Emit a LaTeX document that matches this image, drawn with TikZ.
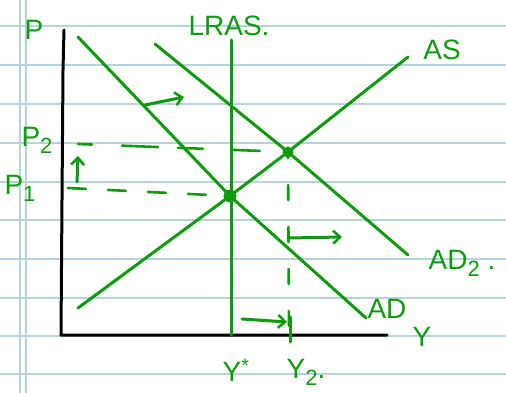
\documentclass[tikz,border=0pt]{standalone}
\usepackage{fontspec}
\setmainfont{Liberation Sans}
\usepackage{xcolor}
\usetikzlibrary{arrows.meta}
\definecolor{pengreen}{HTML}{0E9A0E}
\definecolor{ruleblue}{HTML}{B4D2E2}
\newcommand{\lowidx}[1]{\raisebox{-7pt}{\fontsize{22}{24}\selectfont #1}}
\tikzset{
  curve/.style={pengreen, line width=3pt, line cap=round, line join=round},
  guide/.style={curve, line width=2.6pt, dash pattern=#1},
  guide/.default={on 18pt off 22pt},
  shiftarrow/.style={curve, -{Straight Barb[length=7pt,width=13pt,line width=2.6pt]}},
  axisline/.style={black, line width=3pt, line cap=round, line join=round},
  eqdot/.style={circle, fill=pengreen, inner sep=0pt, minimum size=#1},
  lbl/.style={text=pengreen, font=\fontsize{28}{32}\selectfont, inner sep=0pt}
}

\begin{document}
\begin{tikzpicture}[x=1pt, y=-1pt]
% ruled paper
\fill[white] (0,0) rectangle (506,393);
\useasboundingbox (0,0) rectangle (506,393);
\foreach \y in {26,65,104,143,182,220,259,298,336,374}
  \draw[ruleblue, line width=1.4pt] (0,\y) -- (506,\y);
\draw[ruleblue, line width=1.2pt] (20,0) -- (20,393);
\draw[ruleblue, line width=1.2pt] (26,0) -- (26,393);

% axes
\coordinate (ptop) at (64,30);
\coordinate (origin) at (61,335);
\coordinate (yend) at (387,335);
\draw[axisline] (ptop) -- (63,70) -- (62,200) -- (origin) -- (yend);

% equilibria
\node[eqdot=13pt] (e1) at (230,196) {};
\node[eqdot=11pt] (e2) at (288,152) {};

% curves
\coordinate (lrastop) at (231,40);
\coordinate (lrasbot) at (231,335);
\coordinate (adonetop) at (78,37);
\coordinate (adoneend) at (366,318);
\coordinate (adtwotop) at (155,44);
\coordinate (adtwoend) at (408,255);
\coordinate (asbot) at (78,308);
\coordinate (astop) at (408,57);
\draw[curve] (lrastop) -- (lrasbot);
\draw[curve] (adonetop) -- (e1.center) -- (adoneend);
\draw[curve] (adtwotop) -- (e2.center) -- (adtwoend);
\draw[curve] (asbot) -- (e1.center) -- (e2.center) -- (astop);

% guides to the axes
\coordinate (ptwo) at (78,144);
\coordinate (pone) at (68,188);
\coordinate (ytwo) at (290,342);
\draw[guide={on 14pt off 30pt on 36pt off 20pt on 25pt off 30pt on 27pt off 40pt}] (ptwo) -- (e2.center);
\draw[guide] (pone) -- (e1.center);
\draw[guide={on 15pt off 27pt}, dash phase=9pt] (e2.center) -- (289,330);
\draw[curve] (ytwo) -- ++(0,-25);

% shifts
\coordinate (sa) at (145,105);
\coordinate (sb) at (184,97);
\coordinate (sc) at (288,238);
\coordinate (sd) at (342,237);
\coordinate (se) at (242,319);
\coordinate (sf) at (287,322);
\coordinate (sg) at (77,182);
\coordinate (sh) at (78,156);
\draw[shiftarrow] (sa) -- (sb);
\draw[shiftarrow] (sc) -- (sd);
\draw[shiftarrow] (se) -- (sf);
\draw[shiftarrow] (sg) -- (sh);

% labels
\node[lbl] (lblp) at (34,30) {P};
\node[lbl] (lblptwo) at (37,140) {P\lowidx{2}};
\node[lbl] (lblpone) at (20,188) {P\lowidx{1}};
\node[lbl] (lbllras) at (229,26) {LRAS.};
\node[lbl] (lblas) at (442,50) {AS};
\node[lbl] (lbladtwo) at (462,263) {AD\lowidx{2} .};
\node[lbl] (lbladone) at (387,309) {AD};
\node[lbl] (lbly) at (422,337) {Y};
\node[lbl] (lblystar) at (236,370) {Y\textsuperscript{*}};
\node[lbl] (lblytwo) at (306,372) {Y\lowidx{2}.};
\end{tikzpicture}
\end{document}
